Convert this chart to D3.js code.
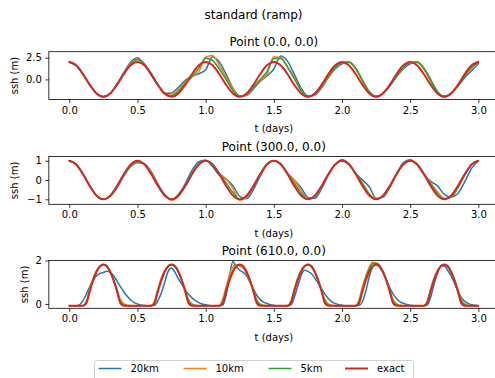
<!DOCTYPE html>
<html><head><meta charset="utf-8">
<script src="https://cdn.jsdelivr.net/npm/d3@7"></script>
<style>body{margin:0;background:#fff} text{font-family:"DejaVu Sans",sans-serif}</style>
</head><body><svg id="c" width="495" height="378"></svg>
<script>
// ---------------- DATA ----------------
const seriesNames = ["20km", "10km", "5km", "exact"];
const panelTitles = ["Point (0.0, 0.0)", "Point (300.0, 0.0)", "Point (610.0, 0.0)"];
const xTickValues = [0, 0.5, 1, 1.5, 2, 2.5, 3];
const yTicks1 = [0, 2.5];
const yTicks2 = [-1, 0, 1];
const yTicks3 = [0, 2];
const dt12 = 0.05;   // sample step (days), panels 1-2
const dt3 = 0.025;   // sample step (days), panel 3

// Panel 1: Point (0.0, 0.0)
const p1_20km = [2.0,1.62,0.62,-0.62,-1.62,-2.0,-1.6,-0.5,0.8,2.0,
 2.5,1.7,0.5,-0.7,-1.6,-1.55,-0.9,-0.1,0.35,0.65,
 1.1,2.6,2.0,0.6,-1.0,-1.9,-1.85,-1.1,-0.2,0.4,
 1.2,2.7,2.1,0.6,-1.0,-1.9,-1.8,-1.0,0.2,1.2,
 1.8,2.0,1.3,-0.1,-1.4,-1.95,-1.6,-0.8,0.3,1.2,
 1.8,2.0,1.3,0.0,-1.4,-1.95,-1.6,-0.8,0.2,1.0,
 1.8];
const p1_10km = [2.0,1.62,0.62,-0.62,-1.62,-2.0,-1.62,-0.55,0.7,1.85,
 2.35,1.75,0.6,-0.65,-1.7,-1.8,-1.2,-0.3,0.35,0.9,
 2.55,2.75,1.6,0.3,-1.1,-1.95,-1.8,-1.0,-0.1,0.6,
 2.6,2.5,1.5,0.2,-1.2,-2.0,-1.75,-0.9,0.3,1.3,
 1.9,1.95,1.2,-0.2,-1.5,-2.0,-1.6,-0.7,0.4,1.3,
 1.9,1.95,1.2,-0.2,-1.5,-2.05,-1.6,-0.7,0.4,1.3,
 2.1];
const p1_5km = [2.0,1.62,0.62,-0.62,-1.62,-2.0,-1.62,-0.6,0.65,1.75,
 2.25,1.8,0.7,-0.6,-1.65,-1.9,-1.4,-0.5,0.3,1.3,
 2.45,2.2,1.2,0.0,-1.3,-2.0,-1.7,-0.9,0.0,0.9,
 2.4,2.4,1.4,0.1,-1.3,-2.0,-1.7,-0.8,0.4,1.4,
 1.95,2.0,1.3,-0.1,-1.5,-2.0,-1.6,-0.7,0.4,1.4,
 1.95,2.0,1.3,-0.1,-1.5,-2.0,-1.6,-0.7,0.4,1.4,
 2.0];
const p1_exact = [2.0,1.62,0.62,-0.62,-1.62,-2.0,-1.62,-0.62,0.62,1.62,
 2.0,1.62,0.62,-0.62,-1.62,-2.0,-1.62,-0.62,0.62,1.62,
 2.0,1.62,0.62,-0.62,-1.62,-2.0,-1.62,-0.62,0.62,1.62,
 2.0,1.62,0.62,-0.62,-1.62,-2.0,-1.62,-0.62,0.62,1.62,
 2.0,1.62,0.62,-0.62,-1.62,-2.0,-1.62,-0.62,0.62,1.62,
 2.0,1.62,0.62,-0.62,-1.62,-2.0,-1.62,-0.62,0.62,1.62,
 2.0];

// Panel 2: Point (300.0, 0.0)
const p2_20km = [1.0,0.81,0.31,-0.31,-0.81,-1.0,-0.85,-0.4,0.2,0.7,
 0.9,0.85,0.45,-0.2,-0.75,-1.0,-0.75,-0.2,0.5,0.95,
 1.02,0.7,0.25,0.05,-0.3,-0.85,-0.97,-0.5,0.2,0.8,
 1.0,0.85,0.35,0.0,-0.4,-0.9,-0.95,-0.45,0.25,0.8,
 1.05,0.85,0.35,0.0,-0.35,-0.95,-0.9,-0.4,0.3,0.9,
 1.05,0.8,0.3,-0.07,-0.3,-0.75,-0.88,-0.7,-0.1,0.6,
 1.0];
const p2_10km = [1.0,0.81,0.31,-0.31,-0.81,-1.0,-0.83,-0.35,0.25,0.75,
 0.95,0.85,0.4,-0.25,-0.8,-1.05,-0.85,-0.3,0.35,0.85,
 1.0,0.8,0.35,0.05,-0.45,-1.05,-0.9,-0.4,0.3,0.85,
 1.0,0.85,0.35,0.0,-0.55,-1.0,-0.85,-0.35,0.3,0.8,
 1.0,0.85,0.35,-0.15,-0.7,-1.0,-0.85,-0.35,0.3,0.85,
 1.0,0.85,0.35,-0.15,-0.6,-0.95,-0.9,-0.4,0.25,0.8,
 1.0];
const p2_5km = [1.0,0.81,0.31,-0.31,-0.81,-1.0,-0.82,-0.33,0.28,0.78,
 0.97,0.83,0.35,-0.28,-0.8,-1.0,-0.83,-0.33,0.3,0.8,
 1.0,0.82,0.33,-0.15,-0.65,-1.0,-0.85,-0.35,0.28,0.8,
 1.0,0.83,0.35,-0.15,-0.7,-1.0,-0.85,-0.35,0.28,0.8,
 1.0,0.83,0.35,-0.2,-0.75,-1.0,-0.83,-0.33,0.3,0.8,
 1.0,0.83,0.33,-0.2,-0.72,-0.98,-0.88,-0.38,0.25,0.78,
 1.0];
const p2_exact = [1.0,0.81,0.31,-0.31,-0.81,-1.0,-0.81,-0.31,0.31,0.81,
 1.0,0.81,0.31,-0.31,-0.81,-1.0,-0.81,-0.31,0.31,0.81,
 1.0,0.81,0.31,-0.31,-0.81,-1.0,-0.81,-0.31,0.31,0.81,
 1.0,0.81,0.31,-0.31,-0.81,-1.0,-0.81,-0.31,0.31,0.81,
 1.0,0.81,0.31,-0.31,-0.81,-1.0,-0.81,-0.31,0.31,0.81,
 1.0,0.81,0.31,-0.31,-0.81,-1.0,-0.81,-0.31,0.31,0.81,
 1.0];

// Panel 3: Point (610.0, 0.0)
const p3_20km = [-0.08,-0.08,-0.08,-0.04,0.15,0.45,0.8,1.1,1.3,1.4,1.45,1.5,1.45,1.3,1.05,0.8,0.55,0.35,0.18,0.06,
 0.0,-0.05,-0.07,-0.08,-0.08,-0.06,0.15,0.5,1.0,1.5,1.65,1.45,1.15,0.9,0.65,0.45,0.28,0.15,0.06,0.0,
 -0.04,-0.07,-0.08,-0.08,-0.08,-0.05,0.4,1.3,1.95,1.7,1.55,1.45,1.3,1.0,0.7,0.4,0.2,0.08,0.02,-0.03,
 -0.06,-0.08,-0.08,-0.08,-0.08,-0.04,0.3,0.8,1.3,1.55,1.5,1.4,1.2,0.95,0.7,0.45,0.25,0.1,0.02,-0.03,
 -0.06,-0.08,-0.08,-0.08,-0.08,-0.06,0.1,0.6,1.25,1.7,1.8,1.7,1.45,1.1,0.75,0.45,0.25,0.1,0.03,-0.02,
 -0.06,-0.08,-0.08,-0.08,-0.08,-0.05,0.3,0.9,1.4,1.75,1.75,1.55,1.3,0.95,0.6,0.3,0.12,0.03,-0.03,-0.06,
 -0.08];
const p3_10km = [-0.08,-0.08,-0.08,-0.08,-0.07,0.15,0.7,1.2,1.55,1.75,1.8,1.72,1.45,1.1,0.65,0.2,0.0,-0.06,-0.08,-0.08,
 -0.08,-0.08,-0.08,-0.08,-0.07,0.15,0.7,1.2,1.55,1.75,1.8,1.72,1.45,1.1,0.65,0.2,0.0,-0.06,-0.08,-0.08,
 -0.08,-0.08,-0.08,-0.08,-0.07,0.2,0.8,1.35,1.7,1.8,1.75,1.65,1.4,1.05,0.65,0.2,0.0,-0.06,-0.08,-0.08,
 -0.08,-0.08,-0.08,-0.08,-0.07,0.15,0.7,1.2,1.55,1.75,1.8,1.72,1.45,1.1,0.65,0.2,0.0,-0.06,-0.08,-0.08,
 -0.08,-0.08,-0.08,-0.08,-0.07,0.2,0.8,1.3,1.7,1.92,1.85,1.72,1.45,1.1,0.65,0.2,0.0,-0.06,-0.08,-0.08,
 -0.08,-0.08,-0.08,-0.08,-0.07,0.15,0.7,1.2,1.55,1.75,1.8,1.72,1.45,1.1,0.65,0.2,0.0,-0.06,-0.08,-0.08,
 -0.08];
const p3_5km = [-0.08,-0.08,-0.08,-0.08,-0.08,0.08,0.62,1.12,1.5,1.73,1.82,1.76,1.5,1.12,0.62,0.12,-0.04,-0.08,-0.08,-0.08,
 -0.08,-0.08,-0.08,-0.08,-0.08,0.08,0.62,1.12,1.5,1.73,1.82,1.76,1.5,1.12,0.62,0.12,-0.04,-0.08,-0.08,-0.08,
 -0.08,-0.08,-0.08,-0.08,-0.08,0.1,0.65,1.15,1.55,1.75,1.8,1.75,1.5,1.12,0.62,0.12,-0.04,-0.08,-0.08,-0.08,
 -0.08,-0.08,-0.08,-0.08,-0.08,0.08,0.62,1.12,1.5,1.73,1.82,1.76,1.5,1.12,0.62,0.12,-0.04,-0.08,-0.08,-0.08,
 -0.08,-0.08,-0.08,-0.08,-0.08,0.1,0.65,1.2,1.6,1.85,1.88,1.78,1.5,1.12,0.62,0.12,-0.04,-0.08,-0.08,-0.08,
 -0.08,-0.08,-0.08,-0.08,-0.08,0.08,0.62,1.12,1.5,1.73,1.82,1.76,1.5,1.12,0.62,0.12,-0.04,-0.08,-0.08,-0.08,
 -0.08];
const p3_exact = [-0.08,-0.08,-0.08,-0.08,-0.08,0.03,0.58,1.08,1.48,1.73,1.82,1.73,1.48,1.08,0.58,0.03,-0.08,-0.08,-0.08,-0.08,
 -0.08,-0.08,-0.08,-0.08,-0.08,0.03,0.58,1.08,1.48,1.73,1.82,1.73,1.48,1.08,0.58,0.03,-0.08,-0.08,-0.08,-0.08,
 -0.08,-0.08,-0.08,-0.08,-0.08,0.03,0.58,1.08,1.48,1.73,1.82,1.73,1.48,1.08,0.58,0.03,-0.08,-0.08,-0.08,-0.08,
 -0.08,-0.08,-0.08,-0.08,-0.08,0.03,0.58,1.08,1.48,1.73,1.82,1.73,1.48,1.08,0.58,0.03,-0.08,-0.08,-0.08,-0.08,
 -0.08,-0.08,-0.08,-0.08,-0.08,0.03,0.58,1.08,1.48,1.73,1.82,1.73,1.48,1.08,0.58,0.03,-0.08,-0.08,-0.08,-0.08,
 -0.08,-0.08,-0.08,-0.08,-0.08,0.03,0.58,1.08,1.48,1.73,1.82,1.73,1.48,1.08,0.58,0.03,-0.08,-0.08,-0.08,-0.08,
 -0.08];

// ---------------- DRAWING ----------------
const colors = ["#1f77b4", "#ff7f0e", "#2ca02c", "#d62728"];
const widths = [1.5, 1.5, 1.5, 2];
const svg = d3.select("#c");
svg.append("rect").attr("width", 495).attr("height", 378).attr("fill", "#fff");

const left = 48.85, right = 498.8;
const panels = [
  {title: panelTitles[0], series: [p1_20km, p1_10km, p1_5km, p1_exact], dt: dt12,
   top: 51.7, bottom: 99.5, domain: [-2.31, 3.19], ticks: yTicks1, fmt: d3.format(".1f"), ylabX: 14},
  {title: panelTitles[1], series: [p2_20km, p2_10km, p2_5km, p2_exact], dt: dt12,
   top: 156.5, bottom: 204.3, domain: [-1.26, 1.22], ticks: yTicks2, fmt: d3.format("d"), ylabX: 14},
  {title: panelTitles[2], series: [p3_20km, p3_10km, p3_5km, p3_exact], dt: dt3,
   top: 260.5, bottom: 308.3, domain: [-0.2, 2.0], ticks: yTicks3, fmt: d3.format("d"), ylabX: 24}
];

const x = d3.scaleLinear().domain([-0.15, 3.15]).range([left, right]);

svg.append("text").attr("x", 253.5).attr("y", 18.5).attr("text-anchor", "middle")
  .attr("font-size", 12).text("standard (ramp)");

panels.forEach((p, pi) => {
  const y = d3.scaleLinear().domain(p.domain).range([p.bottom, p.top]);
  const g = svg.append("g");
  const clipId = "clip" + pi;
  svg.append("clipPath").attr("id", clipId).append("rect")
    .attr("x", left).attr("y", p.top).attr("width", right - left).attr("height", p.bottom - p.top);

  const lines = g.append("g").attr("clip-path", `url(#${clipId})`);
  p.series.forEach((vals, si) => {
    const line = d3.line().x((d, i) => x(i * p.dt)).y(d => y(d)).curve(d3.curveMonotoneX);
    lines.append("path").attr("d", line(vals)).attr("fill", "none")
      .attr("stroke", colors[si]).attr("stroke-width", widths[si])
      .attr("stroke-linejoin", "round").attr("stroke-linecap", "round");
  });

  // frame
  g.append("rect").attr("x", left).attr("y", p.top).attr("width", right - left)
    .attr("height", p.bottom - p.top).attr("fill", "none").attr("stroke", "#000").attr("stroke-width", 0.8);

  const xa = g.append("g").attr("transform", `translate(0,${p.bottom})`)
    .call(d3.axisBottom(x).tickValues(xTickValues).tickFormat(d3.format(".1f")).tickSize(3.5).tickPadding(3.5));
  const ya = g.append("g").attr("transform", `translate(${left},0)`)
    .call(d3.axisLeft(y).tickValues(p.ticks).tickFormat(p.fmt).tickSize(3.5).tickPadding(3.5));
  [xa, ya].forEach(a => {
    a.select(".domain").remove();
    a.attr("font-family", "DejaVu Sans").attr("font-size", 10);
    a.selectAll("line").attr("stroke", "#000").attr("stroke-width", 0.8);
    a.selectAll("text").attr("fill", "#000");
  });

  svg.append("text").attr("x", (left + right) / 2).attr("y", p.top - 6)
    .attr("text-anchor", "middle").attr("font-size", 12).text(p.title);
  svg.append("text").attr("x", 273.8).attr("y", p.bottom + 32.5)
    .attr("text-anchor", "middle").attr("font-size", 10).text("t (days)");
  const ymid = (p.top + p.bottom) / 2;
  svg.append("text").attr("transform", `translate(${p.ylabX + 3.5},${ymid}) rotate(-90)`)
    .attr("text-anchor", "middle").attr("font-size", 10).text("ssh (m)");
});

// legend
const lg = svg.append("g");
lg.append("rect").attr("x", 94.5).attr("y", 360.5).attr("width", 319).attr("height", 30)
  .attr("rx", 2).attr("fill", "#fff").attr("stroke", "#d0d0d0").attr("stroke-width", 1);
const legX = [98.5, 183.5, 268.5, 345];
seriesNames.forEach((n, i) => {
  lg.append("line").attr("x1", legX[i]).attr("x2", legX[i] + 23).attr("y1", 368.5).attr("y2", 368.5)
    .attr("stroke", colors[i]).attr("stroke-width", widths[i]);
  lg.append("text").attr("x", legX[i] + 32).attr("y", 372).attr("font-size", 10).text(n);
});
</script></body></html>
